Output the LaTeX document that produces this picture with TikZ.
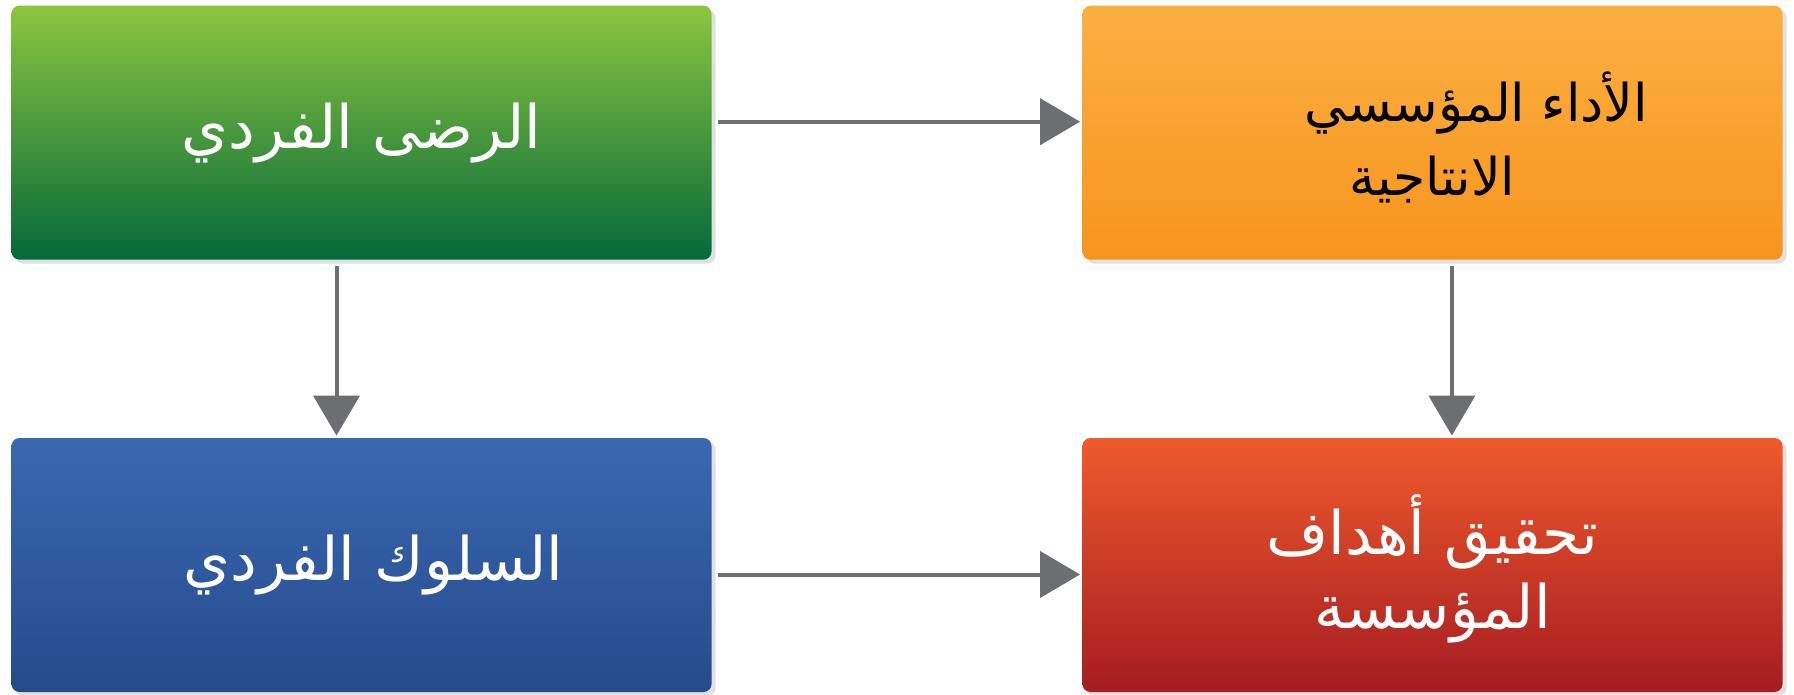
\documentclass[tikz,border=0pt]{standalone}
\usepackage{fontspec}
\newfontfamily\arabicfont[Script=Arabic]{DejaVu Sans}
\TeXXeTstate=1
\usetikzlibrary{arrows.meta,shadows}
\definecolor{greenTop}{HTML}{8CC63F}
\definecolor{greenBot}{HTML}{04693A}
\definecolor{orangeTop}{HTML}{FBAF41}
\definecolor{orangeBot}{HTML}{F7941E}
\definecolor{blueTop}{HTML}{3A68B1}
\definecolor{blueBot}{HTML}{264B8C}
\definecolor{redTop}{HTML}{EF5A2C}
\definecolor{redBot}{HTML}{A51C22}
\definecolor{linkGray}{HTML}{6D6E71}
\tikzset{
  box/.style={rounded corners=4pt, minimum width=350pt, minimum height=127pt,
    inner sep=0pt, align=center,
    font=\arabicfont\fontsize{30pt}{37pt}\selectfont,
    drop shadow={shadow xshift=2pt, shadow yshift=-2pt, fill=black!12, opacity=1}},
  twoline/.style={text height=73.3pt, text depth=10pt},
  link/.style={draw=linkGray, line width=2pt, shorten <=3pt, shorten >=1pt,
    -{Triangle[length=20pt,width=23pt]}}
}

\begin{document}
\begin{tikzpicture}[x=0.5pt,y=-0.5pt]
\useasboundingbox (0,0) rectangle (1794,695);
%Boxes
\node[box, top color=greenTop, bottom color=greenBot, text=white] (rida) at (361.5,132.7)
  {\beginR الرضى الفردي\endR};
\node[box, twoline, top color=orangeTop, bottom color=orangeBot, text=black,
  font=\arabicfont\fontsize{26pt}{37pt}\selectfont] (ada) at (1432.5,132.7)
  {\hspace*{44pt}\beginR الأداء المؤسسي\endR\\\beginR الانتاجية\endR};
\node[box, top color=blueTop, middle color=blueTop!95!blueBot, bottom color=blueBot, text=white] (suluk) at (361.5,565)
  {\hspace*{12pt}\beginR السلوك الفردي\endR};
\node[box, twoline, top color=redTop, bottom color=redBot, text=white] (tahqiq) at (1432.5,565)
  {\beginR تحقيق أهداف\endR\\\beginR المؤسسة\endR};
%Arrows
\draw[link] ([yshift=5.5pt]rida.east) -- ([yshift=5.5pt]ada.west);
\draw[link] ([xshift=-12.5pt]rida.south) -- ([xshift=-12.5pt]suluk.north);
\draw[link] ([xshift=9.7pt]ada.south) -- ([xshift=9.7pt]tahqiq.north);
\draw[link] ([yshift=-4.75pt]suluk.east) -- ([yshift=-4.75pt]tahqiq.west);
\end{tikzpicture}
\end{document}
